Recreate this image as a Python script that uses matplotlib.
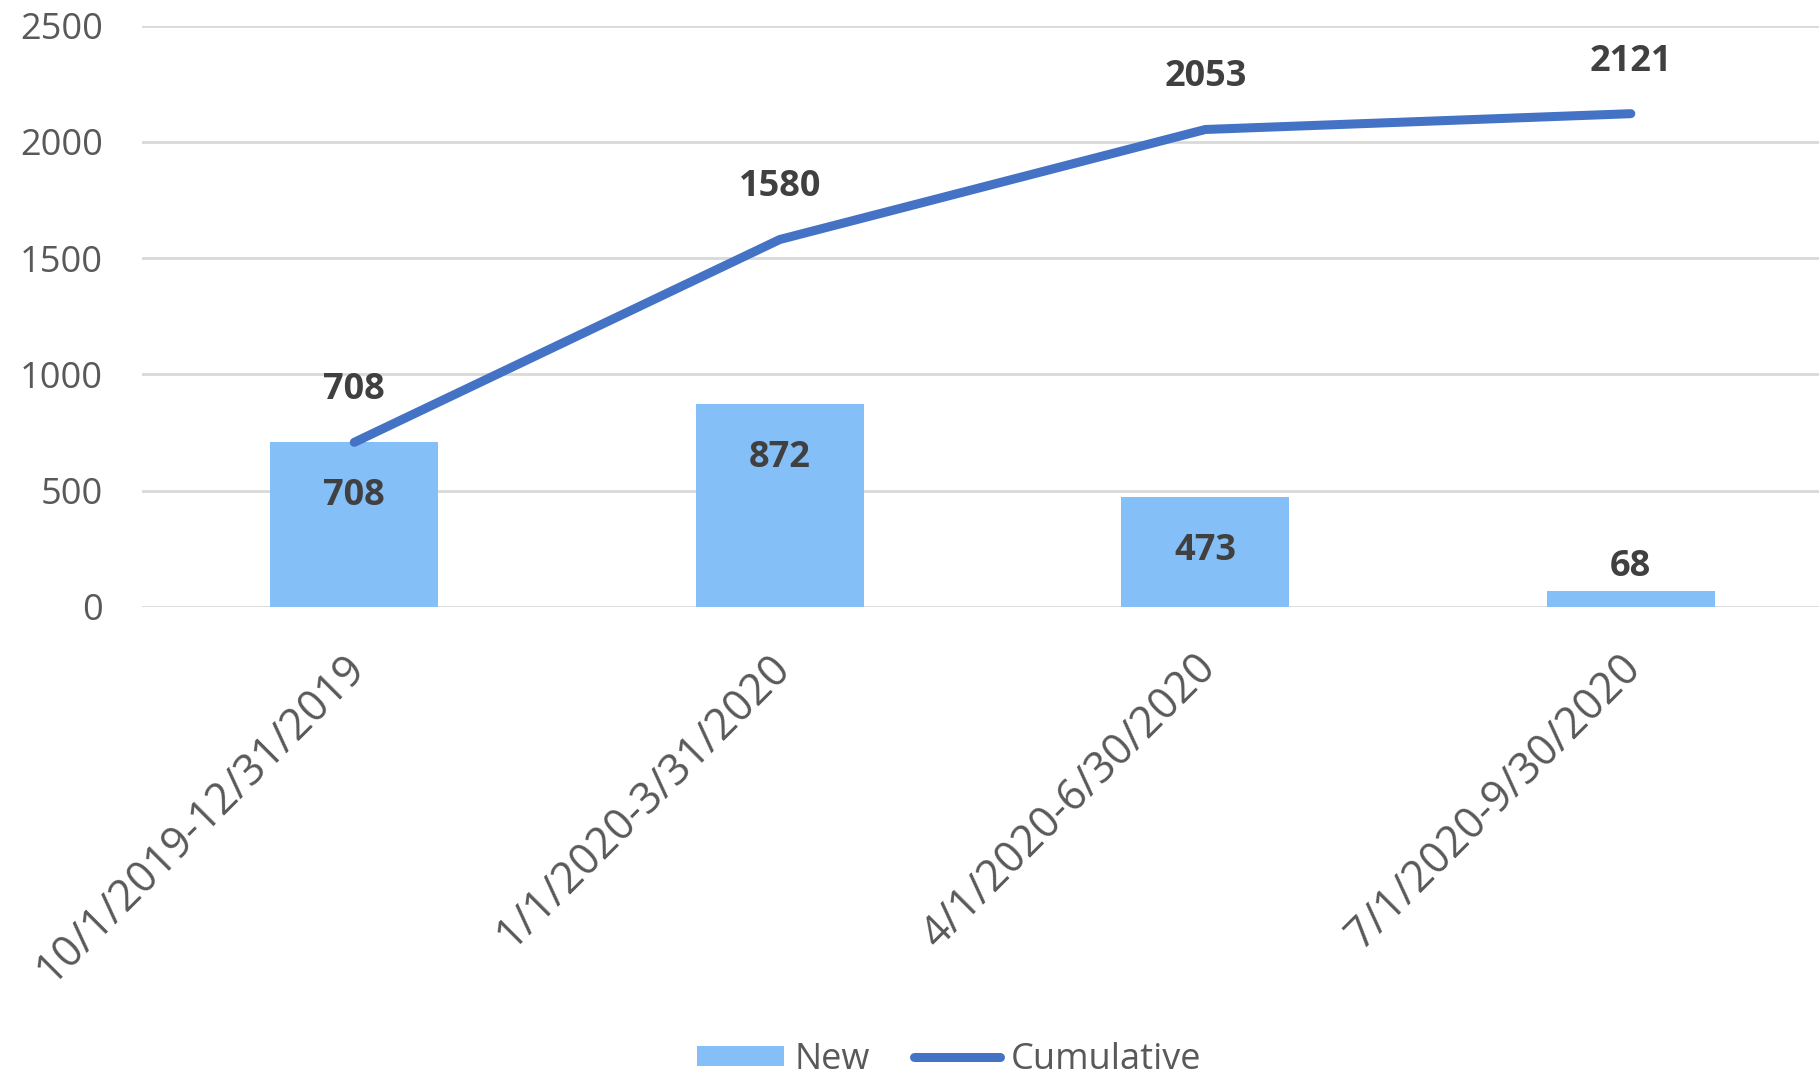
import matplotlib.pyplot as plt
import matplotlib.transforms as mtransforms
import numpy as np

periods = ["10/1/2019-12/31/2019", "1/1/2020-3/31/2020",
           "4/1/2020-6/30/2020", "7/1/2020-9/30/2020"]
new_counts = [708, 872, 473, 68]
cumulative = [708, 1580, 2053, 2121]
y_ticks = [0, 500, 1000, 1500, 2000, 2500]

bar_color = "#85BFF7"
line_color = "#4472C4"
grid_color = "#D9D9D9"
text_gray = "#595959"
label_gray = "#404040"

plt.rcParams['font.family'] = ['Open Sans', 'DejaVu Sans']

fig = plt.figure(figsize=(18.19, 10.77), dpi=100)
ax = fig.add_axes([0.0778, 0.4364, 0.9357, 0.5399])

x = np.arange(len(periods))
bars = ax.bar(x, new_counts, width=0.395, color=bar_color, zorder=2, label="New")
line, = ax.plot(x, cumulative, color=line_color, lw=6.5, solid_capstyle='round',
                zorder=3, label="Cumulative")

ax.set_xlim(-0.5, len(periods) - 0.5)
ax.set_ylim(0, 2500)
ax.set_yticks(y_ticks)
ax.yaxis.grid(True, color=grid_color, lw=2)
ax.set_axisbelow(True)
for s in ax.spines.values():
    s.set_visible(False)
ax.tick_params(length=0)
ax.tick_params(axis='y', labelsize=26, labelcolor=text_gray, pad=28)
ax.set_xticks(x)
ax.set_xticklabels(periods, rotation=45, ha='right', rotation_mode='anchor',
                   fontsize=31, color=text_gray)
ax.tick_params(axis='x', pad=28)
shift = mtransforms.ScaledTranslation(-0.12, 0, fig.dpi_scale_trans)
for lbl in ax.get_xticklabels():
    lbl.set_transform(lbl.get_transform() + shift)

# bar labels
for xi, v in zip(x, new_counts):
    off = -39 if v > 300 else 17.5
    ax.annotate(str(v), (xi, v), xytext=(0, off), textcoords='offset points',
                ha='center', va='center', fontsize=26, fontweight='bold',
                color=label_gray, zorder=4)

# cumulative labels
for xi, v in zip(x, cumulative):
    ax.annotate(str(v), (xi, v), xytext=(0, 37.5), textcoords='offset points',
                ha='center', va='center', fontsize=26, fontweight='bold',
                color=label_gray, zorder=4)

fig.legend([bars, line], ["New", "Cumulative"], loc='center',
           bbox_to_anchor=(0.522, 0.016), ncol=2, frameon=False, fontsize=26,
           handlelength=2.4, handleheight=0.5, handletextpad=0.3,
           columnspacing=1.2, labelcolor=text_gray)

fig.savefig("out.png", dpi=100)
